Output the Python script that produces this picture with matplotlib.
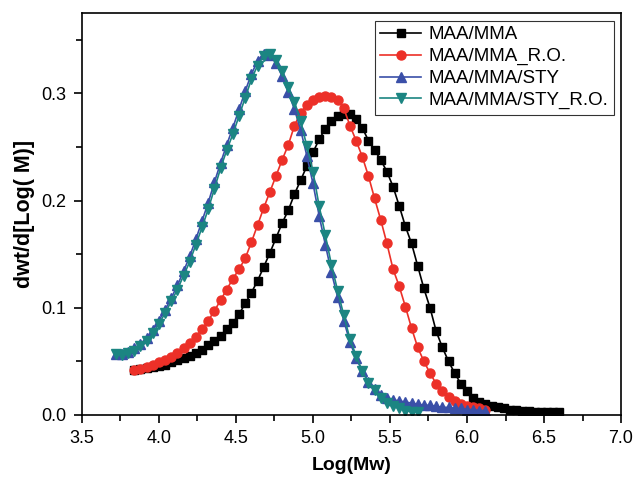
import matplotlib
matplotlib.use("Agg")
import matplotlib.pyplot as plt
from matplotlib.ticker import MultipleLocator

plt.rcParams['font.family'] = ['Liberation Sans', 'DejaVu Sans']

# MAA/MMA
x_mma = [3.84, 3.88, 3.92, 3.96, 4.00, 4.04, 4.08, 4.12, 4.16, 4.20, 4.24, 4.28, 4.32, 4.36,
         4.40, 4.44, 4.48, 4.52, 4.56, 4.60, 4.64, 4.68, 4.72, 4.76, 4.80, 4.84, 4.88, 4.92,
         4.96, 5.00, 5.04, 5.08, 5.12, 5.16, 5.20, 5.24, 5.28, 5.32, 5.36, 5.40, 5.44, 5.48,
         5.52, 5.56, 5.60, 5.64, 5.68, 5.72, 5.76, 5.80, 5.84, 5.88, 5.92, 5.96, 6.00, 6.04,
         6.08, 6.12, 6.16, 6.20, 6.24, 6.28, 6.32, 6.36, 6.40, 6.44, 6.48, 6.52, 6.56, 6.60]
y_mma = [0.042, 0.043, 0.044, 0.045, 0.046, 0.047, 0.049, 0.051, 0.053, 0.055, 0.058, 0.061,
         0.065, 0.069, 0.074, 0.080, 0.086, 0.094, 0.104, 0.114, 0.125, 0.138, 0.151, 0.165,
         0.179, 0.191, 0.206, 0.219, 0.232, 0.245, 0.257, 0.267, 0.274, 0.279, 0.281, 0.281,
         0.276, 0.268, 0.256, 0.247, 0.238, 0.227, 0.213, 0.195, 0.176, 0.160, 0.139, 0.118,
         0.100, 0.078, 0.063, 0.050, 0.039, 0.029, 0.022, 0.016, 0.012, 0.010, 0.008, 0.007,
         0.006, 0.005, 0.005, 0.004, 0.004, 0.003, 0.003, 0.003, 0.003, 0.003]

# MAA/MMA_R.O.
x_mma_ro = [3.84, 3.88, 3.92, 3.96, 4.00, 4.04, 4.08, 4.12, 4.16, 4.20, 4.24, 4.28, 4.32, 4.36,
            4.40, 4.44, 4.48, 4.52, 4.56, 4.60, 4.64, 4.68, 4.72, 4.76, 4.80, 4.84, 4.88, 4.92,
            4.96, 5.00, 5.04, 5.08, 5.12, 5.16, 5.20, 5.24, 5.28, 5.32, 5.36, 5.40, 5.44, 5.48,
            5.52, 5.56, 5.60, 5.64, 5.68, 5.72, 5.76, 5.80, 5.84, 5.88, 5.92, 5.96, 6.00, 6.04,
            6.08, 6.12]
y_mma_ro = [0.042, 0.043, 0.045, 0.047, 0.049, 0.051, 0.054, 0.058, 0.062, 0.067, 0.073, 0.080,
            0.088, 0.097, 0.107, 0.117, 0.127, 0.136, 0.146, 0.161, 0.177, 0.193, 0.208, 0.223,
            0.238, 0.252, 0.270, 0.282, 0.289, 0.294, 0.297, 0.298, 0.297, 0.294, 0.286, 0.270,
            0.256, 0.241, 0.223, 0.202, 0.182, 0.160, 0.136, 0.120, 0.101, 0.081, 0.063, 0.050,
            0.039, 0.029, 0.022, 0.017, 0.013, 0.010, 0.008, 0.007, 0.006, 0.005]

# MAA/MMA/STY
x_sty = [3.72, 3.76, 3.80, 3.84, 3.88, 3.92, 3.96, 4.00, 4.04, 4.08, 4.12, 4.16, 4.20, 4.24,
         4.28, 4.32, 4.36, 4.40, 4.44, 4.48, 4.52, 4.56, 4.60, 4.64, 4.68, 4.72, 4.76, 4.80,
         4.84, 4.88, 4.92, 4.96, 5.00, 5.04, 5.08, 5.12, 5.16, 5.20, 5.24, 5.28, 5.32, 5.36,
         5.40, 5.44, 5.48, 5.52, 5.56, 5.60, 5.64, 5.68, 5.72, 5.76, 5.80, 5.84, 5.88, 5.92,
         5.96, 6.00, 6.04, 6.08, 6.12]
y_sty = [0.057, 0.057, 0.059, 0.062, 0.066, 0.072, 0.079, 0.088, 0.098, 0.109, 0.121, 0.134,
         0.148, 0.164, 0.181, 0.198, 0.217, 0.235, 0.252, 0.268, 0.285, 0.302, 0.318, 0.330,
         0.337, 0.336, 0.328, 0.316, 0.301, 0.285, 0.266, 0.242, 0.216, 0.186, 0.159, 0.133,
         0.110, 0.088, 0.068, 0.053, 0.041, 0.031, 0.024, 0.019, 0.016, 0.014, 0.013, 0.012,
         0.011, 0.010, 0.009, 0.009, 0.008, 0.007, 0.007, 0.006, 0.006, 0.005, 0.005, 0.004,
         0.004]

# MAA/MMA/STY_R.O.
x_sty_ro = [3.72, 3.76, 3.80, 3.84, 3.88, 3.92, 3.96, 4.00, 4.04, 4.08, 4.12, 4.16, 4.20, 4.24,
            4.28, 4.32, 4.36, 4.40, 4.44, 4.48, 4.52, 4.56, 4.60, 4.64, 4.68, 4.72, 4.76, 4.80,
            4.84, 4.88, 4.92, 4.96, 5.00, 5.04, 5.08, 5.12, 5.16, 5.20, 5.24, 5.28, 5.32, 5.36,
            5.40, 5.44, 5.48, 5.52, 5.56, 5.60, 5.64, 5.68]
y_sty_ro = [0.057, 0.056, 0.058, 0.060, 0.064, 0.069, 0.076, 0.085, 0.095, 0.106, 0.117, 0.130,
            0.143, 0.159, 0.175, 0.192, 0.211, 0.230, 0.247, 0.262, 0.279, 0.296, 0.313, 0.326,
            0.335, 0.337, 0.331, 0.321, 0.306, 0.292, 0.274, 0.251, 0.227, 0.195, 0.168, 0.140,
            0.116, 0.093, 0.071, 0.055, 0.041, 0.030, 0.023, 0.016, 0.011, 0.008, 0.006, 0.004,
            0.003, 0.003]

fig = plt.figure(figsize=(6.35, 4.83), dpi=100)
ax = fig.add_axes([0.129, 0.141, 0.849, 0.832])

ms = 6.5
ax.plot(x_mma, y_mma, color="black", marker="s", markersize=ms - 0.5, lw=1.2, label="MAA/MMA")
ax.plot(x_mma_ro, y_mma_ro, color="#ec3028", marker="o", markersize=ms, lw=1.2, label="MAA/MMA_R.O.")
ax.plot(x_sty, y_sty, color="#3a4fa8", marker="^", markersize=ms, lw=1.2, label="MAA/MMA/STY")
ax.plot(x_sty_ro, y_sty_ro, color="#1b8582", marker="v", markersize=ms, lw=1.2, label="MAA/MMA/STY_R.O.")

ax.set_xlim(3.5, 7.0)
ax.set_ylim(0, 0.375)
ax.xaxis.set_major_locator(MultipleLocator(0.5))
ax.xaxis.set_minor_locator(MultipleLocator(0.25))
ax.yaxis.set_major_locator(MultipleLocator(0.1))
ax.yaxis.set_minor_locator(MultipleLocator(0.05))
ax.tick_params(which="major", direction="out", length=6, width=1.2, labelsize=13, pad=5)
ax.tick_params(which="minor", direction="out", length=4, width=1.2)
for s in ax.spines.values():
    s.set_linewidth(1.2)

ax.set_xlabel("Log(Mw)", fontsize=14, fontweight="bold", labelpad=7)
ax.set_ylabel("dwt/d[Log( M)]", fontsize=15.5, fontweight="bold", labelpad=5)

leg = ax.legend(loc="upper right", fontsize=13.5, frameon=True, fancybox=False,
                edgecolor="black", handlelength=2.2, borderpad=0.3, labelspacing=0.25,
                handletextpad=0.35, borderaxespad=0.4)
leg.get_frame().set_linewidth(0.8)

fig.savefig("out.png", dpi=100)
